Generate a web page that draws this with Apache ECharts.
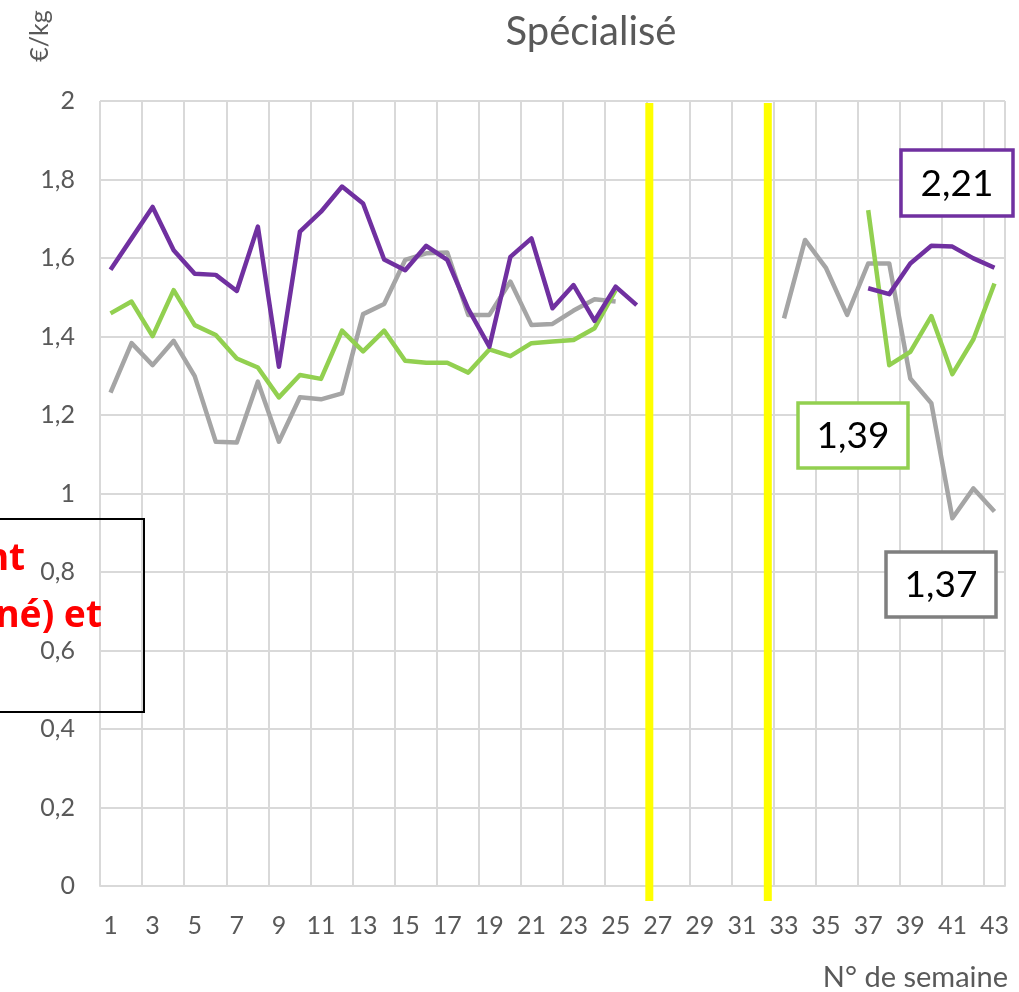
<!DOCTYPE html>
<html>
<head>
<meta charset="utf-8">
<title>Spécialisé</title>
<script src="https://cdn.jsdelivr.net/npm/echarts@6/dist/echarts.min.js"></script>
<style>
  html, body { margin: 0; padding: 0; background: #fff; }
  #chart { width: 1019px; height: 992px; }
</style>
</head>
<body>
<div id="chart"></div>
<script>
// semaines 1 à 43
const weeks = Array.from({length: 43}, (_, i) => String(i + 1));

// prix (€/kg), null = pas de cotation
const purpleSeries = [
  1.57, 1.65, 1.73, 1.62, 1.56, 1.557, 1.516, 1.68, 1.323, 1.667,
  1.718, 1.782, 1.739, 1.596, 1.569, 1.631, 1.595, 1.47, 1.374, 1.603,
  1.65, 1.472, 1.531, 1.44, 1.527, 1.48,
  null, null, null, null, null, null, null, null, null, null,
  1.523, 1.508, 1.586, 1.631, 1.629, 1.599, 1.575
];
const greenSeries = [
  1.459, 1.489, 1.401, 1.518, 1.429, 1.404, 1.344, 1.321, 1.245, 1.302,
  1.292, 1.415, 1.362, 1.415, 1.338, 1.333, 1.333, 1.308, 1.367, 1.35,
  1.383, 1.387, 1.391, 1.421, 1.518,
  null, null, null, null, null, null, null, null, null, null, null,
  1.722, 1.327, 1.361, 1.452, 1.304, 1.393, 1.535
];
const graySeries = [
  1.257, 1.383, 1.327, 1.389, 1.299, 1.132, 1.13, 1.285, 1.132, 1.245,
  1.24, 1.255, 1.457, 1.483, 1.595, 1.612, 1.614, 1.455, 1.455, 1.54,
  1.429, 1.432, 1.466, 1.495, 1.489,
  null, null, null, null, null, null, null,
  1.446, 1.646, 1.574, 1.455, 1.586, 1.586, 1.293, 1.23, 0.937, 1.013, 0.954
];

// traits jaunes (position en semaines) et leur étendue verticale
const breakWeeks = [26.6, 32.23];
const breakRange = [-0.038, 1.995];

// étiquettes encadrées
const boxLabels = ['2,21', '1,39', '1,37'];

const font = 'Lato, "Open Sans", sans-serif';
const axisGrey = '#595959';

const chart = echarts.init(document.getElementById('chart'));

const lineSeries = (data, color) => ({
  type: 'line',
  data: data,
  xAxisIndex: 0,
  symbol: 'none',
  connectNulls: false,
  lineStyle: { color: color, width: 4.5, join: 'round' },
  itemStyle: { color: color },
  z: 3
});

const breakSeries = breakWeeks.map(w => ({
  type: 'line',
  xAxisIndex: 1,
  symbol: 'none',
  clip: false,
  silent: true,
  data: breakRange.map(v => [w, v]),
  lineStyle: { color: '#FFFF00', width: 8, cap: 'butt' },
  z: 4
}));

const box = (x, y, w, h, color, text) => ({
  type: 'group',
  x: x, y: y,
  children: [
    { type: 'rect', z: 20, shape: { x: 0, y: 0, width: w, height: h },
      style: { fill: '#fff', stroke: color, lineWidth: 3.5 } },
    { type: 'text', z: 21, x: w / 2, y: h / 2 + 1,
      style: { text: text, fill: '#000', font: '37px ' + font,
               textAlign: 'center', textVerticalAlign: 'middle' } }
  ]
});

const option = {
  animation: false,
  backgroundColor: '#fff',
  title: {
    text: 'Spécialisé',
    left: 586,
    top: 7,
    textAlign: 'center',
    textStyle: { fontFamily: font, fontSize: 40, fontWeight: 'normal', color: axisGrey }
  },
  grid: { left: 100, right: 14, top: 101, bottom: 106 },
  xAxis: [
    {
      type: 'category',
      data: weeks,
      boundaryGap: true,
      axisLine: { lineStyle: { color: '#D9D9D9', width: 2 } },
      axisTick: { show: false },
      axisLabel: { interval: 1, color: axisGrey, fontFamily: font, fontSize: 25, margin: 27 },
      splitLine: { show: true, interval: 1, lineStyle: { color: '#D9D9D9', width: 2 } }
    },
    {
      type: 'value',
      min: 0.5,
      max: 43.5,
      show: false
    }
  ],
  yAxis: {
    type: 'value',
    min: 0,
    max: 2,
    interval: 0.2,
    axisLine: { show: false },
    axisTick: { show: false },
    axisLabel: {
      color: axisGrey, fontFamily: font, fontSize: 25, margin: 25,
      formatter: v => String(+v.toFixed(1)).replace('.', ',')
    },
    splitLine: { lineStyle: { color: '#D9D9D9', width: 2 } }
  },
  series: [
    lineSeries(graySeries, '#A5A5A5'),
    lineSeries(greenSeries, '#92D050'),
    lineSeries(purpleSeries, '#7030A0')
  ].concat(breakSeries),
  graphic: [
    { type: 'text', x: 40, y: 36, rotation: Math.PI / 2, z: 10,
      style: { text: '€/kg', fill: axisGrey, font: '25px ' + font,
               textAlign: 'center', textVerticalAlign: 'middle' } },
    { type: 'text', x: 1008, y: 978, z: 10,
      style: { text: 'N° de semaine', fill: axisGrey, font: '29px ' + font,
               textAlign: 'right', textVerticalAlign: 'middle' } },
    box(901, 150, 112, 66, '#7030A0', boxLabels[0]),
    box(798, 403, 110, 65, '#92D050', boxLabels[1]),
    box(886, 552, 110, 65, '#7F7F7F', boxLabels[2]),
    { type: 'rect', z: 10, shape: { x: -4, y: 519, width: 148, height: 193 },
      style: { fill: 'none', stroke: '#000', lineWidth: 2 } },
    { type: 'text', x: 25, y: 559, z: 10,
      style: { text: 'nt', fill: '#FF0000', font: 'bold 37px "Noto Sans", sans-serif',
               textAlign: 'right', textVerticalAlign: 'middle' } },
    { type: 'text', x: 102, y: 616, z: 10,
      style: { text: 'né) et', fill: '#FF0000', font: 'bold 37px "Noto Sans", sans-serif',
               textAlign: 'right', textVerticalAlign: 'middle' } }
  ]
};

chart.setOption(option);
</script>
</body>
</html>
